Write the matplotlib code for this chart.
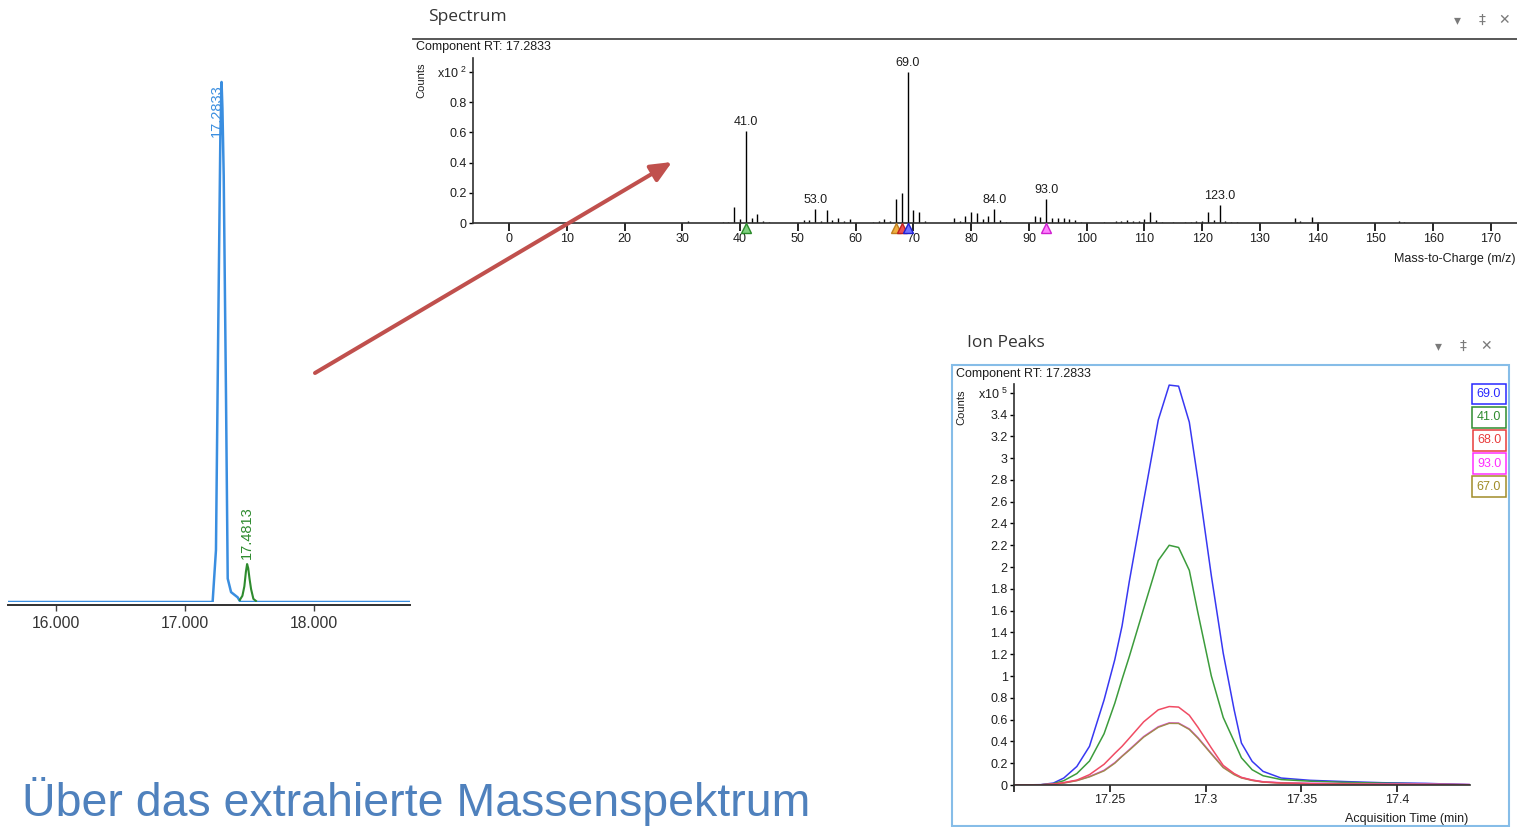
import matplotlib
matplotlib.use("Agg")
import matplotlib.pyplot as plt
from matplotlib.patches import FancyArrowPatch, Rectangle
from matplotlib.lines import Line2D

# --- data -------------------------------------------------------------
# chromatogram (left)
chrom_time = [15.63, 17.200, 17.214, 17.240, 17.258, 17.274, 17.2833, 17.290,
              17.300, 17.318, 17.331, 17.357, 17.408, 17.430, 18.74]
chrom_int = [0.0, 0.0, 0.0, 0.10, 0.535, 0.895, 1.0, 0.95,
             0.82, 0.39, 0.045, 0.019, 0.009, 0.0, 0.0]
peak2_time = [17.425, 17.445, 17.460, 17.472, 17.4813, 17.490, 17.500, 17.512, 17.530, 17.550]
peak2_int = [0.004, 0.012, 0.030, 0.058, 0.073, 0.065, 0.045, 0.025, 0.006, 0.002]
chrom_ticks = [16, 17, 18]
chrom_labels = ["16.000", "17.000", "18.000"]
rt_labels = ["17.2833", "17.4813"]

# spectrum (top)
spec_mz = [31, 37, 38, 39, 40, 41, 42, 43, 44, 45, 51, 52, 53, 54, 55, 56, 57, 58, 59,
           63, 64, 65, 66, 67, 68, 69, 70, 71, 72, 77, 78, 79, 80, 81, 82, 83, 84, 85, 86,
           91, 92, 93, 94, 95, 96, 97, 98, 99, 103, 105, 106, 107, 108, 109, 110, 111,
           112, 113, 115, 117, 118, 119, 120, 121, 122, 123, 124, 125, 126, 136, 137,
           139, 140, 154, 155]
spec_int = [0.015, 0.006, 0.008, 0.105, 0.027, 0.61, 0.033, 0.06, 0.011, 0.006, 0.018,
            0.022, 0.092, 0.011, 0.083, 0.022, 0.033, 0.016, 0.029, 0.008, 0.011, 0.029,
            0.016, 0.156, 0.20, 1.0, 0.083, 0.071, 0.013, 0.033, 0.013, 0.049, 0.07,
            0.064, 0.027, 0.049, 0.093, 0.022, 0.006, 0.049, 0.038, 0.156, 0.031, 0.033,
            0.033, 0.027, 0.022, 0.008, 0.006, 0.016, 0.013, 0.018, 0.016, 0.016, 0.027,
            0.071, 0.022, 0.008, 0.006, 0.006, 0.008, 0.011, 0.016, 0.071, 0.022, 0.116,
            0.013, 0.008, 0.006, 0.033, 0.011, 0.038, 0.008, 0.016, 0.006]
spec_labeled = [41, 53, 69, 84, 93, 123]
marker_mz = [41, 67, 68, 69, 93]
marker_fill = ["#7fd07f", "#f0b040", "#f05050", "#7070ff", "#ff80ff"]
marker_edge = ["#2a8a2a", "#c08020", "#c02020", "#2020d0", "#d020d0"]

# ion peaks (bottom right)
ion_time = [17.200, 17.214, 17.2206, 17.226, 17.2328, 17.2394, 17.247, 17.2526, 17.2564,
            17.2602, 17.2677, 17.2753, 17.281, 17.2859, 17.2915, 17.296, 17.303, 17.3092,
            17.3149, 17.3187, 17.3243, 17.330, 17.3394, 17.3545, 17.3734, 17.3923, 17.415,
            17.4375]
ion_69 = [0.0, 0.003, 0.018, 0.064, 0.17, 0.355, 0.78, 1.15, 1.46, 1.87, 2.61, 3.35, 3.67,
          3.66, 3.33, 2.80, 1.92, 1.21, 0.69, 0.385, 0.217, 0.125, 0.064, 0.043, 0.031,
          0.021, 0.015, 0.003]
ion_41 = [0.0, 0.002, 0.012, 0.04, 0.105, 0.22, 0.47, 0.75, 0.97, 1.18, 1.62, 2.06, 2.20,
          2.18, 1.97, 1.58, 1.0, 0.62, 0.40, 0.25, 0.14, 0.085, 0.05, 0.035, 0.024, 0.017,
          0.01, 0.003]
ion_68 = [0.0, 0.002, 0.008, 0.022, 0.045, 0.095, 0.19, 0.29, 0.355, 0.43, 0.58, 0.69, 0.72,
          0.715, 0.64, 0.53, 0.34, 0.18, 0.105, 0.07, 0.045, 0.028, 0.018, 0.012, 0.009,
          0.006, 0.004, 0.002]
ion_93 = [0.0, 0.002, 0.007, 0.02, 0.042, 0.078, 0.135, 0.205, 0.265, 0.325, 0.445, 0.535,
          0.57, 0.568, 0.515, 0.435, 0.29, 0.165, 0.10, 0.068, 0.045, 0.03, 0.021, 0.016,
          0.013, 0.011, 0.009, 0.005]
ion_67 = [0.0, 0.002, 0.006, 0.018, 0.04, 0.075, 0.13, 0.20, 0.263, 0.32, 0.44, 0.53, 0.566,
          0.565, 0.51, 0.43, 0.285, 0.16, 0.095, 0.065, 0.042, 0.027, 0.018, 0.012, 0.009,
          0.006, 0.004, 0.002]
ion_names = ["69.0", "41.0", "68.0", "93.0", "67.0"]
ion_series = [ion_69, ion_41, ion_68, ion_93, ion_67]
ion_line_colors = ["#3838f2", "#3c9c3c", "#f04c64", "#f048f0", "#a08c4c"]
ion_text_colors = ["#2828ff", "#2e8b2e", "#e83c3c", "#ff2dff", "#a08c28"]
ion_xticks = [17.25, 17.3, 17.35, 17.4]
ion_xlabels = ["17.25", "17.3", "17.35", "17.4"]

# --- layout helpers ----------------------------------------------------
W, H = 1517, 827


def rect(x0, y0, x1, y1):
    return [x0 / W, 1 - y1 / H, (x1 - x0) / W, (y1 - y0) / H]


def fx(x):
    return x / W


def fy(y):
    return 1 - y / H


plt.rcParams['font.family'] = ['Liberation Sans', 'DejaVu Sans']
fig = plt.figure(figsize=(W / 100, H / 100), dpi=100)
fig.patch.set_facecolor("white")
txt = "#1e1e1e"

# --- chromatogram --------------------------------------------------------
ax_c = fig.add_axes(rect(8, 75, 410, 602))
ax_c.plot(chrom_time, chrom_int, color="#3a8ee0", lw=1.8, solid_joinstyle="round")
ax_c.plot(peak2_time, peak2_int, color="#2e8b2e", lw=1.5)
ax_c.set_xlim(15.628, 18.744)
ax_c.set_ylim(0, 1.0134)
for s in ["left", "top", "right"]:
    ax_c.spines[s].set_visible(False)
ax_c.spines["bottom"].set_position(("outward", 2))
ax_c.spines["bottom"].set_color("#303030")
ax_c.spines["bottom"].set_linewidth(1.4)
ax_c.set_yticks([])
ax_c.set_xticks(chrom_ticks)
ax_c.set_xticklabels(chrom_labels, fontsize=11.3, color="#333333")
ax_c.tick_params(axis="x", length=4, width=1, pad=4, color="#404040")
ax_c.text(chrom_time[6] - 0.04, 0.995, rt_labels[0], rotation=90, ha="center", va="top",
          fontsize=10.5, color="#3a8ee0")
ax_c.text(peak2_time[4], 0.082, rt_labels[1], rotation=90, ha="center", va="bottom",
          fontsize=10.5, color="#2e8b2e")

# --- spectrum --------------------------------------------------------------
fig.text(fx(428), fy(17), "Spectrum", fontsize=12.5, family=["Open Sans", "DejaVu Sans"],
         color="#333333", va="center")
for x, g in zip([1457, 1482, 1504], ["▾", "‡", "✕"]):
    fig.text(fx(x), fy(20), g, fontsize=10, family="DejaVu Sans", color="#7a7a7a",
             ha="center", va="center")
fig.add_artist(Line2D([fx(413), fx(1517)], [fy(39), fy(39)], color="#4a4a4a", lw=1.3))
fig.text(fx(416), fy(47), "Component RT: 17.2833", fontsize=9, color=txt, va="center")
fig.text(fx(421), fy(80), "Counts", fontsize=8, color=txt, rotation=90, ha="center",
         va="center")

ax_s = fig.add_axes(rect(473, 58, 1517, 223))
ax_s.vlines(spec_mz, 0, spec_int, color="black", lw=1.0)
for mz, h in zip(spec_mz, spec_int):
    if mz in spec_labeled:
        ax_s.text(mz, h + 0.02, f"{mz:.1f}", ha="center", va="bottom", fontsize=9,
                  color=txt)
for mz, fc, ec in zip(marker_mz, marker_fill, marker_edge):
    ax_s.plot([mz], [-0.034], marker="^", ms=6.5, mfc=fc, mec=ec, mew=1, clip_on=False,
              zorder=5)
ax_s.set_xlim(-6.23, 174.5)
ax_s.set_ylim(0, 1.093)
for s in ["top", "right"]:
    ax_s.spines[s].set_visible(False)
for s in ["left", "bottom"]:
    ax_s.spines[s].set_color("#303030")
    ax_s.spines[s].set_linewidth(1.2)
ax_s.set_xticks(list(range(0, 171, 10)))
ax_s.tick_params(axis="x", length=5.5, width=1.2, pad=1.5, labelsize=9, labelcolor=txt)
spec_yticks = [0, 0.2, 0.4, 0.6, 0.8, 1.0]
ax_s.set_yticks(spec_yticks)
ax_s.set_yticklabels(["0", "0.2", "0.4", "0.6", "0.8", r"x10 $^{\mathregular{2}}$"])
ax_s.tick_params(axis="y", length=3, width=1, pad=1.5, labelsize=9, labelcolor=txt)
fig.text(fx(1516), fy(259), "Mass-to-Charge (m/z)", fontsize=9, color=txt, ha="right",
         va="center")

# --- arrow ----------------------------------------------------------------
arrow = FancyArrowPatch((fx(315), fy(373)), (fx(672), fy(162)), transform=fig.transFigure,
                        arrowstyle="-|>,head_length=0.9,head_width=0.4", mutation_scale=14,
                        color="#c0504d", lw=2.9, shrinkA=0, shrinkB=0, zorder=20)
fig.add_artist(arrow)

# --- ion peaks -------------------------------------------------------------
fig.text(fx(967), fy(343), "Ion Peaks", fontsize=12.5, family=["Open Sans", "DejaVu Sans"],
         color="#333333", va="center")
for x, g in zip([1438, 1463, 1486], ["▾", "‡", "✕"]):
    fig.text(fx(x), fy(346), g, fontsize=10, family="DejaVu Sans", color="#7a7a7a",
             ha="center", va="center")
fig.add_artist(Rectangle((fx(952), fy(826)), (1509 - 952) / W, (826 - 365) / H,
                         transform=fig.transFigure, fill=False, edgecolor="#86bde8", lw=1.5))
fig.text(fx(956), fy(374), "Component RT: 17.2833", fontsize=9, color=txt, va="center")
fig.text(fx(961), fy(407), "Counts", fontsize=8, color=txt, rotation=90, ha="center",
         va="center")

ax_i = fig.add_axes(rect(1014, 384, 1470, 785))
for i in [0, 1, 3, 4, 2]:
    ax_i.plot(ion_time, ion_series[i], color=ion_line_colors[i], lw=1.1)
ax_i.set_xlim(17.2, 17.438)
ax_i.set_ylim(0, 3.68)
for s in ["top", "right"]:
    ax_i.spines[s].set_visible(False)
for s in ["left", "bottom"]:
    ax_i.spines[s].set_color("#303030")
    ax_i.spines[s].set_linewidth(1.2)
ax_i.set_xticks([17.2] + ion_xticks)
ax_i.set_xticklabels([""] + ion_xlabels)
ax_i.tick_params(axis="x", length=5, width=1.1, pad=1.5, labelsize=9, labelcolor=txt)
ion_yticks = [k * 0.2 for k in range(19)]
ion_ylabels = []
for v in ion_yticks:
    if abs(v - 3.6) < 1e-6:
        ion_ylabels.append(r"x10 $^{\mathregular{5}}$")
    elif abs(v - round(v)) < 1e-6:
        ion_ylabels.append(str(int(round(v))))
    else:
        ion_ylabels.append(f"{v:.1f}")
ax_i.set_yticks(ion_yticks)
ax_i.set_yticklabels(ion_ylabels)
ax_i.tick_params(axis="y", length=3, width=1, pad=1.5, labelsize=9, labelcolor=txt)
fig.text(fx(1468), fy(819), "Acquisition Time (min)", fontsize=9, color=txt, ha="right",
         va="center")

for k, (name, c) in enumerate(zip(ion_names, ion_text_colors)):
    fig.text(fx(1489), fy(394 + k * 23.2), name, fontsize=9, color=c, ha="center",
             va="center", bbox=dict(boxstyle="square,pad=0.35", facecolor="white",
                                    edgecolor=c, lw=1.1))

# --- caption ---------------------------------------------------------------
fig.text(fx(22), fy(816), "Über das extrahierte Massenspektrum", fontsize=33.5,
         color="#4f81bd", va="baseline", ha="left")

fig.savefig("out.png", dpi=100)
